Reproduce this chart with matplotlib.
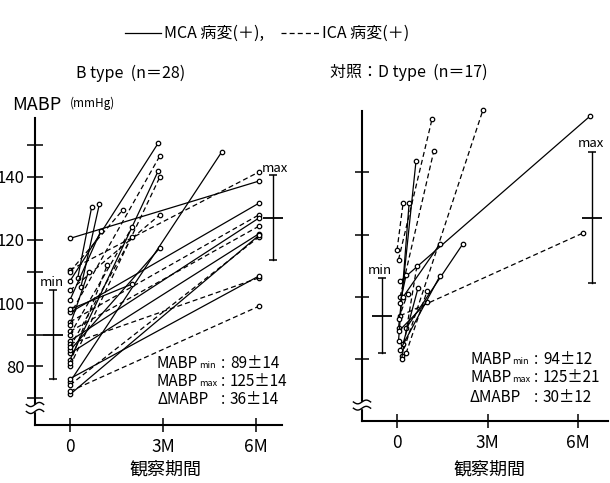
import matplotlib
matplotlib.use('Agg')
import matplotlib.pyplot as plt
from matplotlib.lines import Line2D
import numpy as np

plt.rcParams['font.family'] = ['Noto Sans CJK JP', 'DejaVu Sans']

W, H = 610, 483
fig = plt.figure(figsize=(6.1, 4.83), dpi=100)
fig.patch.set_facecolor('white')

def fx(px):
    return px / W

def fy(py):
    return 1 - py / H

# ---------------- data ----------------
# B type (n=28): start month, start MABP, end month, end MABP, style (s=MCA, d=ICA)
b_m0 = [0, 0, 0.25, 0.35, 0, 0.1, 0, 0, 0, 0, 0, 0, 0, 0,
        0, 0, 0, 0, 0, 0, 0, 0, 0, 0, 0, 0, 0, 0]
b_v0 = [120.5, 110.5, 108, 105, 107, 98, 82, 80, 75, 97, 104, 94, 88, 91,
        84, 74, 71, 87, 76, 72, 85, 110, 101, 90, 86, 98, 81, 93]
b_m1 = [6.1, 6.1, 0.7, 0.95, 2.85, 2.9, 2.85, 2.9, 4.9, 6.1, 2.9, 6.1, 6.1, 6.1,
        6.1, 6.1, 6.1, 6.1, 6.1, 6.1, 2.9, 1.7, 1.0, 2.0, 2.0, 2.0, 1.2, 0.6]
b_v1 = [138.7, 141.6, 130.5, 131.5, 150.8, 146.7, 142, 140, 148, 131.7, 128, 128, 127, 124.4,
        122, 121, 121.5, 108, 108.6, 99, 117.5, 129.5, 123, 124, 121, 106, 112, 110]
b_sty = ['s', 'd', 's', 's', 's', 'd', 's', 'd', 's', 's', 'd', 'd', 's', 'd',
         's', 'd', 's', 'd', 's', 'd', 's', 'd', 's', 'd', 'd', 's', 'd', 's']

# D type (n=17)
d_m0 = [0.1, 0.15, 0.05, 0.1, 0.05, 0, 0.05, 0.2, 0.3, 0.1, 0.05, 0.2, 0.1, 0.15, 0.3, 0.1, 0.05]
d_v0 = [105, 81, 112, 100, 90, 115, 86, 100, 90, 94, 89, 85, 83, 80, 82, 98, 93]
d_m1 = [6.4, 2.85, 1.16, 1.22, 0.63, 0.2, 0.4, 1.42, 2.18, 6.16, 1.0, 0.7, 1.42, 0.66, 1.0, 0.3, 0.35]
d_v1 = [158, 160, 157, 146.8, 143.6, 130, 130, 117, 117, 120.5, 98.4, 103, 106.7, 110, 102, 107, 101]
d_sty = ['s', 'd', 'd', 'd', 's', 'd', 's', 's', 's', 'd', 's', 's', 's', 'd', 'd', 's', 'd']

# summary bars: (position month, mean, half-range)
b_min_bar = (-0.55, 90, 14)
b_max_bar = (6.55, 127, 13.5)
d_min_bar = (-0.5, 94, 12)
d_max_bar = (6.46, 125.4, 21)

xtick_pos = [0, 3, 6]
xtick_lab = ['0', '3M', '6M']
ytick_major = [80, 100, 120, 140]
ytick_minor = [70, 90, 110, 130, 150]

b_stats = ['89±14', '125±14', '36±14']
d_stats = ['94±12', '125±21', '30±12']


def make_axes(rect, xlim, ylim, labels, minor, tlen):
    ax = fig.add_axes(rect)
    ax.set_xlim(*xlim)
    ax.set_ylim(*ylim)
    for s in ['top', 'right']:
        ax.spines[s].set_visible(False)
    for s in ['left', 'bottom']:
        ax.spines[s].set_linewidth(1.5)
    ax.set_xticks(xtick_pos)
    ax.set_xticklabels(xtick_lab, fontsize=12.5)
    ax.set_yticks(ytick_major)
    if labels:
        ax.set_yticklabels([str(t) for t in ytick_major], fontsize=12)
    else:
        ax.set_yticklabels([])
    if minor:
        ax.set_yticks(ytick_minor, minor=True)
    ax.tick_params(axis='y', which='both', direction='inout', length=tlen, width=1.1, pad=1.5)
    ax.tick_params(axis='x', which='both', direction='inout', length=10, width=1.1, pad=4)
    ax.patch.set_alpha(0)
    return ax


def draw_lines(ax, m0, v0, m1, v1, sty):
    for a, b, c, d, s in zip(m0, v0, m1, v1, sty):
        ls = '-' if s == 's' else (0, (4, 2.5))
        ax.plot([a, c], [b, d], color='black', lw=0.9, ls=ls, clip_on=False,
                marker='o', ms=3.2, mfc='white', mec='black', mew=0.9, zorder=3)


def draw_bar(ax, bar):
    x, c, h = bar
    ax.plot([x, x], [c - h, c + h], color='black', lw=1.0, zorder=4)
    ax.plot([x, x], [c - h, c + h], ls='none', marker='_', ms=6, mew=1.1, color='black', zorder=4)
    ax.plot([x], [c], ls='none', marker='_', ms=15, mew=1.3, color='black', zorder=4)


def draw_break(ax, y1, y2):
    tr = ax.get_yaxis_transform()
    ax.fill_between([-0.03, 0.03], [y1, y1], [y2, y2], color='white', transform=tr,
                    clip_on=False, zorder=5)
    t = np.linspace(-0.035, 0.035, 30)
    amp = (y2 - y1) * 0.3
    for yy in (y1, y2):
        ax.plot(t, yy + amp * np.sin(t / 0.035 * np.pi), color='black', lw=1.0,
                transform=tr, clip_on=False, zorder=6)


# ---------------- left panel ----------------
axb = make_axes([fx(35), fy(425), fx(282) - fx(35), fy(118) - fy(425)],
                (-1.13, 6.84), (61.3, 158.7), True, True, 12)
draw_lines(axb, b_m0, b_v0, b_m1, b_v1, b_sty)
draw_bar(axb, b_min_bar)
draw_bar(axb, b_max_bar)
draw_break(axb, 65.6, 67.8)

# ---------------- right panel ----------------
axd = make_axes([fx(362), fy(421), fx(608) - fx(362), fy(111) - fy(421)],
                (-1.16, 6.99), (60.3, 159.6), False, False, 10)
draw_lines(axd, d_m0, d_v0, d_m1, d_v1, d_sty)
draw_bar(axd, d_min_bar)
draw_bar(axd, d_max_bar)
draw_break(axd, 64.4, 66.4)

# ---------------- texts ----------------
# legend line
fig.add_artist(Line2D([fx(125), fx(161)], [fy(33), fy(33)], color='black', lw=0.9))
fig.text(fx(164), fy(33), 'MCA 病変(＋),', fontsize=11.5, ha='left', va='center')
fig.add_artist(Line2D([fx(281), fx(319)], [fy(33), fy(33)], color='black', lw=0.9,
                      ls=(0, (4, 2.5))))
fig.text(fx(322), fy(33), 'ICA 病変(＋)', fontsize=11.5, ha='left', va='center')

fig.text(fx(131), fy(73), 'B type  (n＝28)', fontsize=11.5, ha='center', va='center')
fig.text(fx(409), fy(72), '対照：D type  (n＝17)', fontsize=11.5, ha='center', va='center')

fig.text(fx(12), fy(105), 'MABP', fontsize=13, ha='left', va='center')
fig.text(fx(70), fy(103), '(mmHg)', fontsize=8.5, ha='left', va='center')

fig.text(fx(52), fy(283), 'min', fontsize=9.5, ha='center', va='center')
fig.text(fx(275), fy(168), 'max', fontsize=9.5, ha='center', va='center')
fig.text(fx(380), fy(271), 'min', fontsize=9.5, ha='center', va='center')
fig.text(fx(591), fy(143), 'max', fontsize=9.5, ha='center', va='center')


def stats(x0, xc, ys, vals):
    fs = 11
    fig.text(fx(x0), fy(ys[0]), 'MABP', fontsize=fs, ha='left', va='center')
    fig.text(fx(x0 + 42), fy(ys[0] + 2), 'min', fontsize=6.5, ha='left', va='center')
    fig.text(fx(x0), fy(ys[1]), 'MABP', fontsize=fs, ha='left', va='center')
    fig.text(fx(x0 + 42), fy(ys[1] + 2), 'max', fontsize=6.5, ha='left', va='center')
    fig.text(fx(x0), fy(ys[2]), 'ΔMABP', fontsize=fs, ha='left', va='center')
    for y, v in zip(ys, vals):
        fig.text(fx(xc), fy(y), ':', fontsize=fs, ha='center', va='center')
        fig.text(fx(xc + 7), fy(y), v, fontsize=fs, ha='left', va='center')


stats(157, 223, [364, 382, 400], b_stats)
stats(470, 536, [359, 377, 397], d_stats)

fig.text(fx(165), fy(470), '観察期間', fontsize=13, ha='center', va='center')
fig.text(fx(489), fy(470), '観察期間', fontsize=13, ha='center', va='center')

fig.savefig('out.png', dpi=100, facecolor='white')
